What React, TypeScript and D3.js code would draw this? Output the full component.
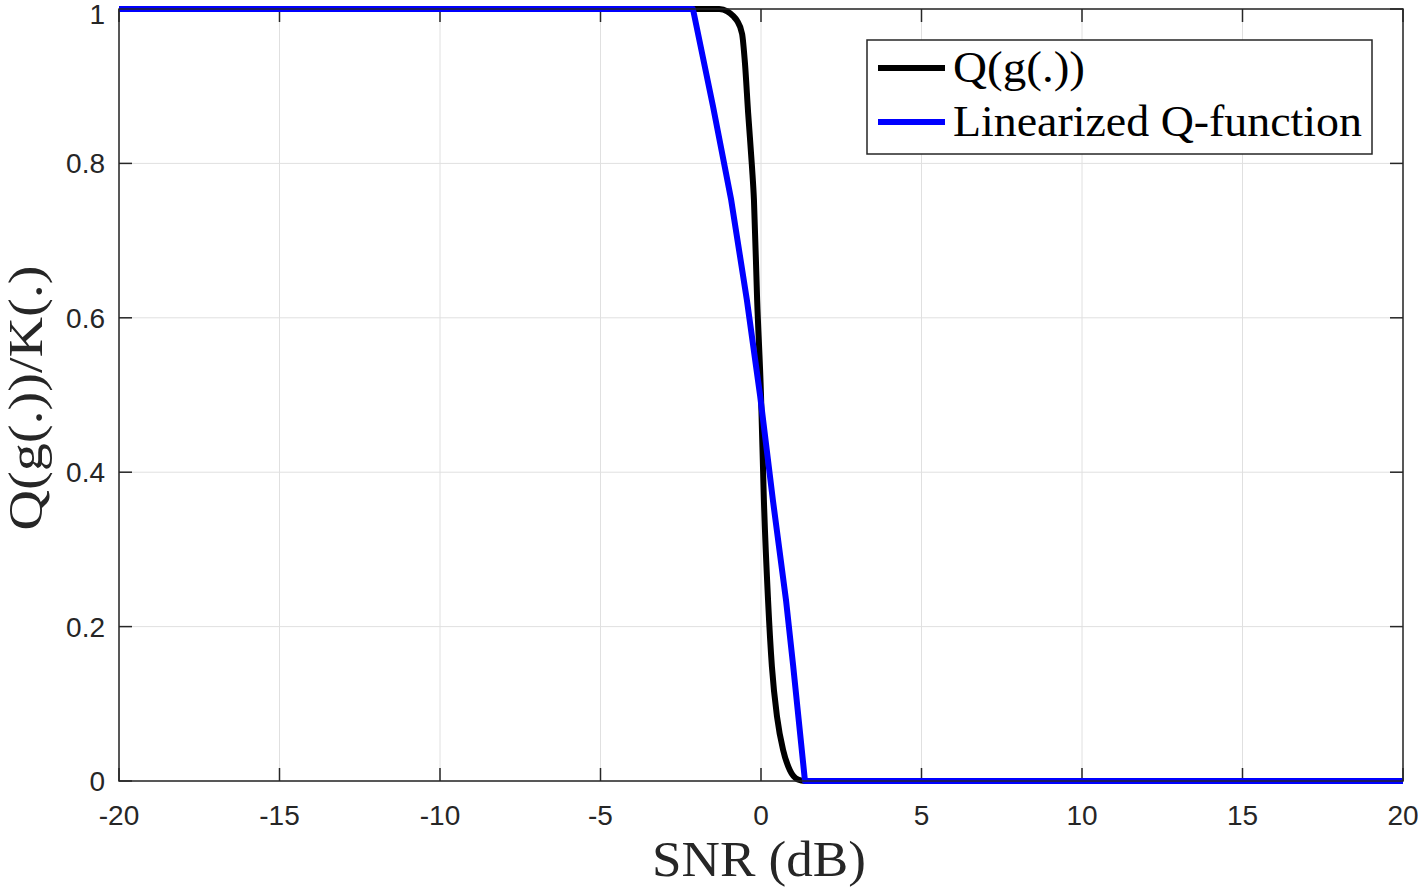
import React from 'react';
import * as d3 from 'd3';

// SNR (dB) / value pairs
const qSnr = [-20, -1.3, -1.05, -0.87, -0.75, -0.59, -0.5, -0.4, -0.28, -0.22, -0.12, 0, 0.09, 0.22, 0.34, 0.5, 0.69, 0.9, 1.15, 1.37, 20];
const qVal = [1, 1, 0.997, 0.991, 0.985, 0.968, 0.93, 0.865, 0.795, 0.753, 0.623, 0.5, 0.364, 0.234, 0.148, 0.083, 0.04, 0.014, 0.002, 0, 0];

const linSnr = [-20, -2.12, -1.5, -0.93, -0.44, -0.03, 0.37, 0.78, 1.0, 1.37, 20];
const linVal = [1, 1, 0.875, 0.753, 0.623, 0.5, 0.364, 0.234, 0.15, 0, 0];

const xTicks = [-20, -15, -10, -5, 0, 5, 10, 15, 20];
const yTicks = [0, 0.2, 0.4, 0.6, 0.8, 1];

const W = 1418;
const H = 888;
const left = 119, right = 1403, top = 9, bottom = 781;

const App = () => {
  const x = d3.scaleLinear().domain([-20, 20]).range([left, right]);
  const y = d3.scaleLinear().domain([0, 1]).range([bottom, top]);

  const smooth = d3.line<[number, number]>()
    .x(d => x(d[0]))
    .y(d => y(d[1]))
    .curve(d3.curveMonotoneX);
  const straight = d3.line<[number, number]>()
    .x(d => x(d[0]))
    .y(d => y(d[1]));

  const qPath = smooth(qSnr.map((s, i) => [s, qVal[i]]));
  const linPath = straight(linSnr.map((s, i) => [s, linVal[i]]));

  const axisColor = '#262626';
  const sans = '"Liberation Sans", Arial, sans-serif';
  const serif = '"Liberation Serif", "DejaVu Serif", serif';

  return (
    <svg width={W} height={H} style={{ position: 'absolute', left: 0, top: 0, background: '#fff' }}>
      <rect x={0} y={0} width={W} height={H} fill="#fff" />

      {/* grid */}
      {xTicks.map(t => (
        <line key={'gx' + t} x1={x(t)} x2={x(t)} y1={top} y2={bottom} stroke="#e0e0e0" strokeWidth={1} />
      ))}
      {yTicks.map(t => (
        <line key={'gy' + t} x1={left} x2={right} y1={y(t)} y2={y(t)} stroke="#e0e0e0" strokeWidth={1} />
      ))}

      {/* ticks inside, all four sides */}
      {xTicks.map(t => (
        <g key={'tx' + t} stroke={axisColor} strokeWidth={1.5}>
          <line x1={x(t)} x2={x(t)} y1={bottom} y2={bottom - 13} />
          <line x1={x(t)} x2={x(t)} y1={top} y2={top + 13} />
        </g>
      ))}
      {yTicks.map(t => (
        <g key={'ty' + t} stroke={axisColor} strokeWidth={1.5}>
          <line x1={left} x2={left + 13} y1={y(t)} y2={y(t)} />
          <line x1={right} x2={right - 13} y1={y(t)} y2={y(t)} />
        </g>
      ))}

      {/* curves */}
      <path d={qPath || ''} fill="none" stroke="#000" strokeWidth={6} strokeLinejoin="round" />
      <path d={linPath || ''} fill="none" stroke="#0000ff" strokeWidth={6} strokeLinejoin="round" />

      {/* box */}
      <rect x={left} y={top} width={right - left} height={bottom - top} fill="none" stroke={axisColor} strokeWidth={1.5} />

      {/* tick labels */}
      {xTicks.map(t => (
        <text key={'lx' + t} x={x(t)} y={825} textAnchor="middle" fontFamily={sans} fontSize={28} fill={axisColor}>
          {t}
        </text>
      ))}
      {yTicks.map(t => (
        <text key={'ly' + t} x={105} y={Math.max(y(t) + 10, 24)} textAnchor="end" fontFamily={sans} fontSize={28} fill={axisColor}>
          {t === 0 || t === 1 ? String(t) : t.toFixed(1)}
        </text>
      ))}

      {/* axis titles */}
      <text x={759} y={876} textAnchor="middle" fontFamily={serif} fontSize={50} fill={axisColor}
        textLength={214} lengthAdjust="spacingAndGlyphs">
        SNR (dB)
      </text>
      <text transform={`translate(42, ${y(0.5) + 3}) rotate(-90)`} textAnchor="middle" fontFamily={serif} fontSize={48} fill={axisColor}
        textLength={265} lengthAdjust="spacingAndGlyphs">
        Q(g(.))/K(.)
      </text>

      {/* legend */}
      <rect x={867} y={40} width={505} height={114} fill="#fff" stroke={axisColor} strokeWidth={1.5} />
      <line x1={878} x2={945} y1={68} y2={68} stroke="#000" strokeWidth={6} />
      <line x1={878} x2={945} y1={122} y2={122} stroke="#0000ff" strokeWidth={6} />
      <text x={953} y={82} fontFamily={serif} fontSize={44} fill="#000" textLength={132} lengthAdjust="spacingAndGlyphs">Q(g(.))</text>
      <text x={953} y={136} fontFamily={serif} fontSize={44} fill="#000" textLength={409} lengthAdjust="spacingAndGlyphs">Linearized Q-function</text>
    </svg>
  );
};

export default App;
